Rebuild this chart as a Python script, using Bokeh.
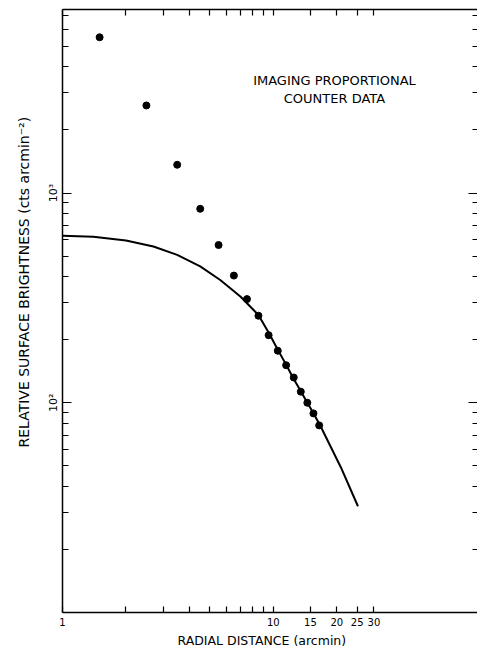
from bokeh.plotting import figure
from bokeh.models import (LogAxis, FixedTicker, Title, Label, Range1d,
                          CustomJSTickFormatter)
from bokeh.embed import file_html
from bokeh.resources import INLINE

# --- data ---
radius = [1.5, 2.5, 3.5, 4.5, 5.5, 6.5, 7.5, 8.5, 9.5, 10.5, 11.5, 12.5,
          13.5, 14.5, 15.5, 16.5]
brightness = [5530, 2616, 1364, 841, 565, 404, 312, 260, 210, 177, 151, 132,
              113, 100, 89, 78]

model_r = [1.0, 1.4, 2.0, 2.7, 3.5, 4.5, 5.6, 7.0, 8.5, 9.6, 10.5, 11.5,
           12.4, 13.5, 14.5, 15.6, 16.8, 20.9, 25.2]
model_s = [626, 619, 594, 556, 507, 447, 385, 320, 262, 212, 179, 152,
           131.5, 113.4, 100, 88.2, 76.9, 49.3, 32.1]

x_major = [1, 10, 15, 20, 25, 30]
x_major_labels = ["1", "10", "15", "20", "25", "30"]
x_minor = [2, 3, 4, 5, 6, 7, 8, 9]
y_major = [100, 1000]
y_major_labels = ["10\u00b2", "10\u00b3"]
y_minor = [20, 30, 40, 50, 60, 70, 80, 90,
           200, 300, 400, 500, 600, 700, 800, 900,
           2000, 3000, 4000, 5000, 6000, 7000]

FONT = "DejaVu Sans"

p = figure(width=477, height=649, x_axis_type="log", y_axis_type="log",
           x_range=Range1d(1, 93), y_range=Range1d(10, 7500),
           output_backend="svg", toolbar_location=None,
           min_border_left=62, min_border_right=0, min_border_top=9,
           min_border_bottom=36)
p.outline_line_color = None
p.xgrid.visible = False
p.ygrid.visible = False
p.background_fill_color = "white"
p.border_fill_color = "white"

# data
p.line(model_r, model_s, line_width=2, color="black")
p.scatter(radius, brightness, size=7, color="black")

# bottom axis
xa = p.xaxis[0]
xa.ticker = FixedTicker(ticks=x_major, minor_ticks=x_minor)
xa.major_label_overrides = {t: l for t, l in zip(x_major, x_major_labels)}
xa.major_tick_in = 6
xa.major_tick_out = 0
xa.minor_tick_in = 6
xa.minor_tick_out = 0
xa.axis_line_width = 1.5
xa.major_tick_line_width = 1.2
xa.minor_tick_line_width = 1.2
xa.major_label_standoff = 5
xa.major_label_text_font = FONT
xa.major_label_text_font_size = "10px"
xa.major_label_text_color = "black"
xa.axis_label = None

# left axis
ya = p.yaxis[0]
ya.ticker = FixedTicker(ticks=y_major, minor_ticks=y_minor)
ya.major_label_overrides = {t: l for t, l in zip(y_major, y_major_labels)}
ya.major_label_orientation = "parallel"
ya.major_tick_in = 9
ya.major_tick_out = 0
ya.minor_tick_in = 6
ya.minor_tick_out = 0
ya.axis_line_width = 1.5
ya.major_tick_line_width = 1.2
ya.minor_tick_line_width = 1.2
ya.major_label_standoff = 2
ya.major_label_text_font = FONT
ya.major_label_text_font_size = "11px"
ya.major_label_text_color = "black"
ya.axis_label = None

blank = CustomJSTickFormatter(code="return ''")

top = LogAxis(ticker=FixedTicker(ticks=x_major, minor_ticks=x_minor),
              formatter=blank, major_tick_in=6, major_tick_out=0,
              minor_tick_in=6, minor_tick_out=0, major_label_standoff=0,
              axis_line_width=1.5, major_tick_line_width=1.2,
              minor_tick_line_width=1.2)
p.add_layout(top, "above")

right = LogAxis(ticker=FixedTicker(ticks=y_major, minor_ticks=y_minor),
                formatter=blank, major_tick_in=9, major_tick_out=0,
                minor_tick_in=5, minor_tick_out=0, major_label_standoff=0,
                axis_line_color=None, major_tick_line_width=1.2,
                minor_tick_line_width=1.2)
p.add_layout(right, "right")

# axis titles
xt = Title(text="RADIAL DISTANCE (arcmin)", align="left", offset=115,
           text_font=FONT, text_font_size="12.5px", text_font_style="normal",
           text_color="black", standoff=4)
p.add_layout(xt, "below")

yt = Title(text="RELATIVE  SURFACE  BRIGHTNESS  (cts arcmin\u207b\u00b2)",
           align="left", offset=165, text_font=FONT, text_font_size="14px",
           text_font_style="normal", text_color="black", standoff=26)
p.add_layout(yt, "left")

# annotation text
for txt, yv in [("IMAGING PROPORTIONAL", 3430), ("COUNTER DATA", 2825)]:
    p.add_layout(Label(x=19.5, y=yv, text=txt, text_align="center",
                       text_baseline="middle", text_font=FONT,
                       text_font_size="13px", text_color="black"))

open("out.html", "w").write(file_html(p, INLINE))
